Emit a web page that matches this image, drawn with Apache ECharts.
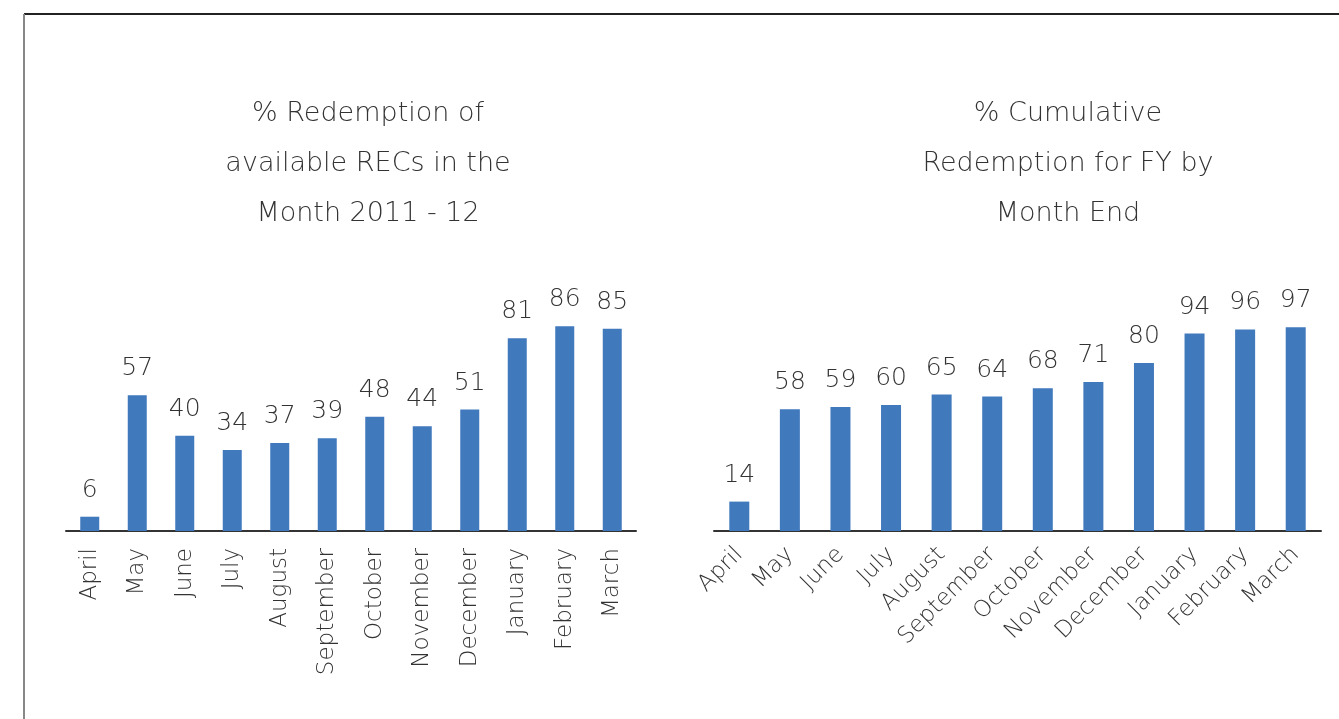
<!DOCTYPE html>
<html>
<head>
<meta charset="utf-8">
<script src="https://cdn.jsdelivr.net/npm/echarts@6/dist/echarts.min.js"></script>
<style>
  html, body { margin: 0; padding: 0; background: #fff; }
  #chart { width: 1339px; height: 719px; }
</style>
</head>
<body>
<div id="chart"></div>
<script>
// Months of the financial year
const months = ['April', 'May', 'June', 'July', 'August', 'September', 'October',
  'November', 'December', 'January', 'February', 'March'];

// % redemption of available RECs in each month, 2011-12
const monthlyRedemption = [6, 57, 40, 34, 37, 39, 48, 44, 51, 81, 86, 85];

// % cumulative redemption for the FY at each month end
const cumulativeRedemption = [14, 58, 59, 60, 65, 64, 68, 71, 80, 94, 96, 97];

const leftTitle = '% Redemption of\navailable RECs in the\nMonth 2011 - 12';
const rightTitle = '% Cumulative\nRedemption for FY by\nMonth End';

const FONT = '"DejaVu Sans", sans-serif';
const WEIGHT = 200;
const TEXT = '#333333';
const BAR = '#4179bd';

const chart = echarts.init(document.getElementById('chart'));

const titleStyle = { fontFamily: FONT, fontSize: 27, fontWeight: WEIGHT, color: TEXT, lineHeight: 50 };

chart.setOption({
  animation: false,
  title: [
    { text: leftTitle, left: 363, top: 84, textAlign: 'center', textStyle: titleStyle },
    { text: rightTitle, left: 1063, top: 84, textAlign: 'center', textStyle: titleStyle }
  ],
  graphic: [
    { type: 'line', shape: { x1: 24, y1: 14, x2: 1339, y2: 14 }, style: { stroke: '#222', lineWidth: 2 } },
    { type: 'line', shape: { x1: 24, y1: 14, x2: 24, y2: 719 }, style: { stroke: '#888', lineWidth: 2 } }
  ],
  grid: [
    { left: 66, width: 570, top: 293, height: 238 },
    { left: 714, width: 607, top: 321, height: 210 }
  ],
  xAxis: [0, 1].map(i => ({
    type: 'category',
    gridIndex: i,
    data: months,
    axisLine: { lineStyle: { color: '#333', width: 2 } },
    axisTick: { show: false },
    axisLabel: {
      interval: 0,
      rotate: i === 0 ? 90 : 45,
      margin: i === 0 ? 17 : 20,
      fontFamily: FONT,
      fontWeight: WEIGHT,
      fontSize: 23,
      color: TEXT
    }
  })),
  yAxis: [0, 1].map(i => ({
    type: 'value',
    gridIndex: i,
    min: 0,
    max: 100,
    show: false,
    splitLine: { show: false }
  })),
  series: [
    { data: monthlyRedemption, axis: 0, width: 19 },
    { data: cumulativeRedemption, axis: 1, width: 20 }
  ].map(s => ({
    type: 'bar',
    xAxisIndex: s.axis,
    yAxisIndex: s.axis,
    data: s.data,
    barWidth: s.width,
    itemStyle: { color: BAR },
    label: {
      show: true,
      position: 'top',
      distance: 14,
      fontFamily: FONT,
      fontWeight: WEIGHT,
      fontSize: 25,
      color: TEXT
    }
  }))
});
</script>
</body>
</html>
